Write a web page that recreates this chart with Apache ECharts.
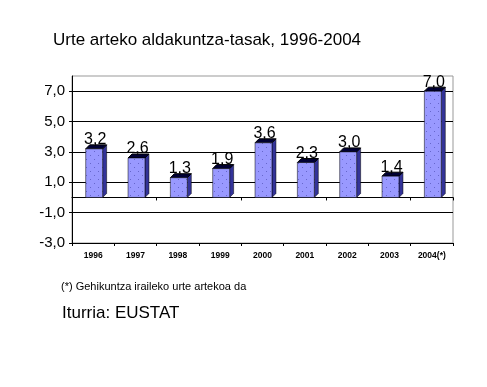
<!DOCTYPE html>
<html><head><meta charset="utf-8">
<script src="https://cdn.jsdelivr.net/npm/echarts@6/dist/echarts.min.js"></script>
<style>html,body{margin:0;padding:0;background:#fff}#c{width:487px;height:387px}</style>
</head><body><div id="c"></div>
<script>
const categories = ['1996','1997','1998','1999','2000','2001','2002','2003','2004(*)'];
const values = [3.2, 2.6, 1.3, 1.9, 3.6, 2.3, 3.0, 1.4, 7.0];
const yTicks = [-3, -1, 1, 3, 5, 7];
const titleText = 'Urte arteko aldakuntza-tasak, 1996-2004';
const noteText = '(*) Gehikuntza iraileko urte artekoa da';
const sourceText = 'Iturria: EUSTAT';

function fmt(v){ return v.toFixed(1).replace('.', ','); }

// dotted fill pattern
const pc = document.createElement('canvas');
pc.width = 8; pc.height = 8;
const pctx = pc.getContext('2d');
pctx.fillStyle = '#9999ff'; pctx.fillRect(0,0,8,8);
pctx.fillStyle = '#6666cc'; pctx.fillRect(2,3,1,1); pctx.fillRect(6,7,1,1);

const F = 'Arial, "Liberation Sans", sans-serif';
const chart = echarts.init(document.getElementById('c'), null, {renderer:'canvas'});
chart.setOption({
  animation: false,
  backgroundColor: '#fff',
  title: [
    {text: titleText, left: 53, top: 32, padding: 0, textStyle:{fontFamily:F, fontSize:17, fontWeight:'normal', color:'#000'}},
    {text: noteText, left: 61, top: 281, padding: 0, textStyle:{fontFamily:F, fontSize:11, fontWeight:'normal', color:'#000'}},
    {text: sourceText, left: 62, top: 305, padding: 0, textStyle:{fontFamily:F, fontSize:17, fontWeight:'normal', color:'#000'}}
  ],
  grid: {left: 72, right: 34, top: 76, bottom: 144, show: true, borderColor: '#999', borderWidth: 1, backgroundColor: '#fff'},
  xAxis: [{
    type: 'category', data: categories, position: 'bottom',
    axisLine: {show: true, onZero: false, lineStyle:{color:'#000', width:1}},
    axisTick: {show: true, alignWithLabel: false, length: 3, lineStyle:{color:'#000'}},
    axisLabel: {fontFamily:F, fontSize:8.5, fontWeight:'bold', color:'#000', margin:8, interval:0}
  }, {
    type: 'category', data: categories, position: 'bottom',
    axisLine: {show: true, onZero: true, lineStyle:{color:'#000', width:1}},
    axisTick: {show: true, alignWithLabel: false, length: 3, lineStyle:{color:'#000'}},
    axisLabel: {show: false},
    splitLine: {show: false}
  }],
  yAxis: {
    type: 'value', min: -3, max: 8, interval: 2,
    axisLine: {show: true, lineStyle:{color:'#000', width:1}},
    axisTick: {show: true, length: 3, lineStyle:{color:'#000'}},
    axisLabel: {fontFamily:F, fontSize:15, color:'#000', margin:7, showMaxLabel:false,
      formatter: v => yTicks.indexOf(v) >= 0 ? fmt(v) : ''},
    splitLine: {show: true, showMaxLine: false, showMinLine: false, lineStyle:{color:'#000', width:1}}
  },
  series: [{
    type: 'custom',
    xAxisIndex: 0,
    data: values.map((v,i)=>[i,v]),
    encode: {x:0, y:1},
    renderItem: function(params, api){
      const x = api.value(0), v = api.value(1);
      const top = api.coord([x, v]);
      const base = api.coord([x, 0]);
      const bw = api.size([1,0])[0]*0.4;
      const d = 4;
      const l = top[0]-bw/2+1, r = l+bw;
      return {type:'group', children:[
        {type:'polygon', shape:{points:[[r,top[1]],[r+d,top[1]-d],[r+d,base[1]-d],[r,base[1]]]}, style:{fill:'#333399', stroke:'#000', lineWidth:0.5}},
        {type:'polygon', shape:{points:[[l,top[1]],[l+d,top[1]-d],[r+d,top[1]-d],[r,top[1]]]}, style:{fill:'#000033', stroke:'#000', lineWidth:1}},
        {type:'rect', shape:{x:l, y:top[1], width:bw, height:base[1]-top[1]}, style:{fill:{image:pc, repeat:'repeat'}, stroke:'#000', lineWidth:0.5}},
        {type:'text', x: top[0]+2, y: top[1]-1, style:{text: fmt(v), textAlign:'center', textVerticalAlign:'bottom', font:'16px ' + F, fill:'#000'}}
      ]};
    },
    z: 5
  }]
});
</script></body></html>
